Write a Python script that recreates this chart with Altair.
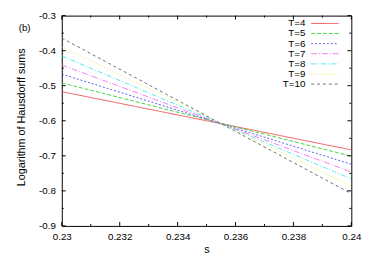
import altair as alt
import pandas as pd

# ---- data ----
series = ["T=4", "T=5", "T=6", "T=7", "T=8", "T=9", "T=10"]
s_values = [0.23, 0.24]
log_at_left = [-0.517, -0.492, -0.467, -0.441, -0.415, -0.389, -0.364]
log_at_right = [-0.683, -0.701, -0.724, -0.746, -0.766, -0.786, -0.808]
colors = ["#f04545", "#30d030", "#4848f0", "#f56af5", "#40e6e6", "#e8e840", "#606060"]
dashes = [[1, 0], [4, 2], [2, 2], [6, 2, 1, 2], [5, 2, 1, 2], [1, 2], [3, 3]]

x_major = [0.23, 0.232, 0.234, 0.236, 0.238, 0.24]
x_minor = [0.231, 0.233, 0.235, 0.237, 0.239]
y_major = [-0.9, -0.8, -0.7, -0.6, -0.5, -0.4, -0.3]
y_labels = ["-0.9", "-0.8", "-0.7", "-0.6", "-0.5", "-0.4", "-0.3"]
y_minor = [-0.85, -0.75, -0.65, -0.55, -0.45, -0.35]
y_title = "Logarithm of Hausdorff sums"

W, H = 296, 215
FONT = "Liberation Sans"

rows = []
for i, t in enumerate(series):
    rows.append({"T": t, "s": s_values[0], "v": log_at_left[i], "order": i})
    rows.append({"T": t, "s": s_values[1], "v": log_at_right[i], "order": i})
df = pd.DataFrame(rows)
leg = pd.DataFrame({"T": series, "order": list(range(len(series)))})

xs = alt.Scale(domain=[0.23, 0.24], nice=False, zero=False)
ys = alt.Scale(domain=[-0.9, -0.3], nice=False, zero=False)
cs = alt.Scale(domain=series, range=colors)
ds = alt.Scale(domain=series, range=dashes)

lines = alt.Chart(df).mark_line(strokeWidth=1, clip=True, opacity=0.9).encode(
    x=alt.X("s:Q", scale=xs, axis=alt.Axis(title="s", values=x_major, format=".3~f")),
    y=alt.Y("v:Q", scale=ys, axis=alt.Axis(title=None, labels=False, values=y_major)),
    color=alt.Color("T:N", scale=cs, legend=None),
    strokeDash=alt.StrokeDash("T:N", scale=ds, legend=None),
    detail="T:N",
)

def xticks(vals, length, top):
    d = pd.DataFrame({"s": vals})
    if top:
        y1, y2 = alt.value(0), alt.value(length)
    else:
        y1, y2 = alt.value(H), alt.value(H - length)
    return alt.Chart(d).mark_rule(color="black", strokeWidth=1).encode(
        x=alt.X("s:Q", scale=xs), y=y1, y2=y2)

def yticks(vals, length, right):
    d = pd.DataFrame({"v": vals})
    if right:
        x1, x2 = alt.value(W), alt.value(W - length)
    else:
        x1, x2 = alt.value(0), alt.value(length)
    return alt.Chart(d).mark_rule(color="black", strokeWidth=1).encode(
        y=alt.Y("v:Q", scale=ys), x=x1, x2=x2)

ticks = [
    xticks(x_major, 4, False), xticks(x_major, 4, True),
    xticks(x_minor, 2, False), xticks(x_minor, 2, True),
    yticks(y_major, 4, False), yticks(y_major, 4, True),
    yticks(y_minor, 2, False), yticks(y_minor, 2, True),
]

ylab = alt.Chart(pd.DataFrame({"v": y_major, "t": y_labels})).mark_text(
    font=FONT, fontSize=10, color="black", align="right", baseline="middle"
).encode(y=alt.Y("v:Q", scale=ys), x=alt.value(-6), text="t:N")

ytitle = alt.Chart(pd.DataFrame({"t": [y_title]})).mark_text(
    font=FONT, fontSize=11, color="black", align="center", baseline="middle", angle=270
).encode(x=alt.value(-41), y=alt.value(104), text="t:N")

label_b = alt.Chart(pd.DataFrame({"t": ["(b)"]})).mark_text(
    font=FONT, fontSize=10, color="black", align="center", baseline="middle"
).encode(x=alt.value(-38), y=alt.value(13), text="t:N")

main = alt.layer(lines, *ticks, ylab, ytitle, label_b)

leg_y = alt.Y("order:O", scale=alt.Scale(type="point", range=[8, 70], padding=0), axis=None)
leg_text = alt.Chart(leg).mark_text(
    font=FONT, fontSize=10, color="black", align="right", baseline="middle"
).encode(x=alt.value(249), y=leg_y, text="T:N")
leg_line = alt.Chart(leg).mark_rule(strokeWidth=1, opacity=0.9).encode(
    x=alt.value(255), x2=alt.value(283), y=leg_y,
    color=alt.Color("T:N", scale=cs, legend=None),
    strokeDash=alt.StrokeDash("T:N", scale=ds, legend=None),
)
legend = alt.layer(leg_text, leg_line)

chart = alt.layer(main, legend).resolve_scale(y="independent").properties(
    width=W, height=H,
    autosize=alt.AutoSizeParams(type="none"),
    padding={"left": 55, "top": 5, "right": 15, "bottom": 30},
    background="white",
).configure_view(stroke="black", strokeWidth=1).configure_axis(
    labelOverlap=False, labelFlush=False, ticks=False, tickSize=0, domain=False, grid=False,
    labelFontSize=10, labelFont=FONT, labelColor="#000",
    titleFont=FONT, titleFontSize=11, titleFontWeight="normal", titleColor="#000",
).configure_axisX(
    labelPadding=6, titleBaseline="middle", titleY=24
)

chart.save("out.html", embed_options={"renderer": "svg", "actions": False})
